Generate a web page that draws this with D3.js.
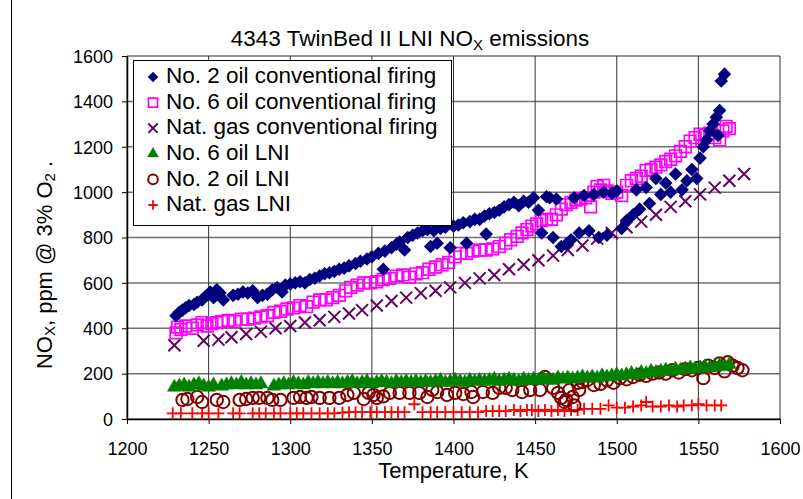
<!DOCTYPE html>
<html><head><meta charset="utf-8">
<script src="https://cdn.jsdelivr.net/npm/d3@7/dist/d3.min.js"></script>
<style>body{margin:0;background:#fff}svg{display:block;font-family:"Liberation Sans",Arial,sans-serif}</style>
</head><body><svg id="c" width="803" height="499"></svg>
<script>
const xTicks = [1200,1250,1300,1350,1400,1450,1500,1550,1600];
const yTicks = [0,200,400,600,800,1000,1200,1400,1600];

const no2ConvT = [1230,1232,1234,1236,1238,1241,1243,1246,1248,1250,1251,1253,1255,1257,1259,1265,1268,1271,1274,1277,1280,1283,1286,1289,1292,1295,1297,1300,1303,1306,1309,1312,1315,1318,1321,1324,1327,1330,1333,1336,1340,1343,1347,1350,1354,1357,1358,1362,1365,1367,1370,1372,1375,1378,1381,1384,1386,1388,1390,1392,1395,1398,1400,1403,1406,1408,1410,1413,1416,1419,1420,1422,1425,1428,1431,1434,1437,1440,1443,1446,1449,1452,1454,1457,1459,1461,1463,1466,1469,1472,1474,1477,1480,1483,1486,1489,1492,1494,1497,1500,1503,1506,1510,1512,1514,1518,1520,1524,1527,1530,1533,1536,1540,1543,1546,1549,1551,1553,1555,1557,1559,1561,1562,1563,1564,1566];
const no2ConvV = [455,470,480,490,500,505,515,525,540,550,560,535,570,555,525,545,550,560,555,565,535,545,550,570,580,560,590,595,600,605,600,615,620,630,640,645,650,660,665,675,685,695,705,715,730,660,740,755,770,780,745,800,810,820,830,835,760,830,775,840,845,755,850,855,865,775,870,880,880,895,815,905,910,920,935,945,955,940,960,955,975,920,820,980,975,800,970,760,770,790,975,820,985,830,990,800,1000,810,995,1005,840,875,900,1010,925,1020,950,1060,990,1040,1000,1080,1010,1050,1100,1060,1150,1200,1230,1270,1300,1330,1250,1360,1490,1520];

const no6ConvT = [1230,1231,1233,1236,1240,1243,1246,1249,1252,1255,1258,1262,1266,1270,1274,1278,1282,1286,1290,1294,1298,1302,1306,1310,1314,1318,1322,1326,1330,1334,1337,1341,1345,1349,1353,1357,1361,1365,1369,1373,1377,1381,1385,1389,1393,1397,1401,1404,1408,1412,1416,1420,1424,1428,1432,1435,1439,1442,1445,1448,1451,1454,1457,1460,1463,1466,1469,1472,1475,1478,1481,1484,1486,1488,1490,1492,1494,1497,1500,1503,1506,1509,1512,1515,1518,1521,1524,1527,1530,1533,1536,1539,1542,1545,1548,1551,1554,1557,1560,1563,1565,1567,1569];
const no6ConvV = [380,405,395,410,400,415,425,410,420,425,430,435,430,440,440,445,450,455,470,475,485,490,500,495,515,525,525,535,545,565,580,590,600,600,605,615,620,630,635,625,640,645,660,670,680,690,715,730,730,740,745,745,750,760,775,790,805,820,835,850,860,875,880,880,900,925,945,955,965,970,975,935,1000,1025,1010,1030,1005,995,1000,985,1030,1050,1060,1070,1095,1100,1110,1120,1135,1145,1160,1180,1200,1225,1240,1255,1250,1260,1240,1230,1270,1290,1280];

const gasConvT = [1229,1247,1256,1264,1273,1282,1291,1300,1309,1318,1327,1336,1344,1353,1362,1371,1380,1389,1398,1407,1416,1425,1434,1443,1452,1461,1470,1479,1488,1497,1506,1515,1524,1533,1542,1551,1560,1569,1578];
const gasConvV = [325,345,350,360,375,385,400,410,425,435,450,465,480,500,520,535,555,565,580,600,620,635,660,680,700,720,745,765,795,820,845,870,900,935,960,990,1020,1050,1080];

const no6LniT = [1229,1232,1235,1238,1241,1244,1247,1250,1253,1258,1261,1264,1267,1270,1273,1276,1279,1282,1290,1293,1296,1299,1302,1305,1308,1311,1314,1317,1320,1323,1326,1329,1332,1335,1338,1341,1344,1347,1350,1353,1356,1359,1362,1365,1368,1371,1374,1377,1380,1383,1386,1389,1392,1395,1398,1401,1404,1407,1410,1413,1416,1419,1422,1425,1428,1431,1434,1437,1440,1443,1446,1449,1452,1455,1458,1461,1464,1467,1470,1473,1476,1479,1482,1485,1488,1491,1494,1497,1500,1503,1506,1509,1512,1515,1518,1521,1524,1527,1530,1533,1536,1539,1542,1545,1548,1551,1554,1557,1560,1563,1566,1569];
const no6LniV = [140,145,150,140,150,155,145,140,150,145,150,155,150,160,150,155,150,155,145,150,155,150,160,155,150,160,155,160,155,160,155,160,155,160,165,155,160,165,155,160,165,160,155,165,160,165,160,165,160,165,160,165,170,160,165,170,165,160,170,165,170,165,170,175,165,170,175,170,165,175,170,175,170,180,175,170,180,175,180,175,180,185,180,185,180,190,185,190,195,190,195,200,195,205,200,210,205,210,215,210,220,215,220,225,220,225,230,225,230,235,230,240];

const no2LniT = [1234,1237,1243,1246,1255,1259,1269,1273,1277,1281,1286,1289,1294,1302,1306,1310,1313,1318,1324,1330,1335,1339,1345,1348,1351,1353,1357,1361,1367,1373,1379,1384,1387,1390,1396,1401,1406,1411,1412,1418,1424,1428,1432,1436,1442,1447,1453,1456,1461,1464,1466,1468,1469,1471,1473,1474,1476,1477,1479,1482,1486,1490,1494,1498,1502,1506,1510,1514,1518,1522,1526,1530,1534,1538,1542,1546,1550,1553,1556,1560,1563,1566,1568,1571,1574,1577];
const no2LniV = [84,88,97,75,84,75,84,88,93,93,93,84,84,93,97,93,97,93,93,93,106,115,88,115,106,93,100,115,115,115,115,97,128,119,106,115,110,119,97,119,115,137,137,128,119,128,128,185,137,115,93,75,84,128,97,60,159,128,163,172,150,155,170,160,180,175,185,195,190,200,205,200,215,205,220,215,225,180,235,225,245,210,250,235,225,215];

const gasLniT = [1228,1233,1240,1246,1250,1256,1265,1269,1277,1281,1285,1290,1294,1300,1304,1308,1313,1318,1323,1327,1332,1336,1340,1344,1349,1353,1358,1362,1366,1370,1376,1381,1386,1390,1395,1400,1405,1410,1415,1420,1424,1428,1432,1437,1441,1445,1448,1452,1456,1460,1464,1468,1472,1476,1480,1485,1490,1495,1500,1505,1510,1515,1518,1522,1527,1532,1537,1541,1546,1550,1555,1560,1564];
const gasLniV = [25,25,25,25,25,25,25,25,25,25,25,25,25,25,25,25,25,25,25,25,28,30,30,30,30,30,30,30,30,30,65,30,30,30,30,30,30,30,30,35,35,35,35,40,35,40,40,35,40,35,40,35,40,40,45,45,45,60,50,50,55,60,75,55,55,60,55,60,60,65,60,60,60];

const seriesNames = ["No. 2 oil conventional firing","No. 6 oil conventional firing","Nat. gas conventional firing","No. 6 oil LNI","No. 2 oil LNI","Nat. gas LNI"];

const series = [
  {name:seriesNames[0], t:no2ConvT, v:no2ConvV, sym:"diamond", color:"#000080"},
  {name:seriesNames[1], t:no6ConvT, v:no6ConvV, sym:"square", color:"#FF00FF"},
  {name:seriesNames[2], t:gasConvT, v:gasConvV, sym:"x", color:"#660066"},
  {name:seriesNames[3], t:no6LniT, v:no6LniV, sym:"triangle", color:"#008000"},
  {name:seriesNames[4], t:no2LniT, v:no2LniV, sym:"circle", color:"#800000"},
  {name:seriesNames[5], t:gasLniT, v:gasLniV, sym:"plus", color:"#FF0000"}
];

const svg = d3.select("#c");
svg.append("rect").attr("width",803).attr("height",499).attr("fill","#fff");
svg.append("line").attr("x1",11.5).attr("x2",11.5).attr("y1",0).attr("y2",499).attr("stroke","#000").attr("stroke-width",1);

const L=127, R=780, T=56, B=419;
const x = d3.scaleLinear().domain([1200,1600]).range([L,R]);
const y = d3.scaleLinear().domain([0,1600]).range([B,T]);

// gridlines
const g = svg.append("g");
g.selectAll("line.h").data(yTicks).join("line").attr("class","h")
  .attr("x1",L).attr("x2",R).attr("y1",d=>y(d)).attr("y2",d=>y(d))
  .attr("stroke","#707070").attr("stroke-width",1.5);
g.selectAll("line.v").data(xTicks).join("line").attr("class","v")
  .attr("y1",T).attr("y2",B).attr("x1",d=>x(d)).attr("x2",d=>x(d))
  .attr("stroke","#333").attr("stroke-width",1);

// axes
const xAxis = svg.append("g").attr("transform",`translate(0,${B})`)
  .call(d3.axisBottom(x).tickValues(xTicks).tickFormat(d3.format("d")).tickSize(5).tickSizeOuter(0));
const yAxis = svg.append("g").attr("transform",`translate(${L},0)`)
  .call(d3.axisLeft(y).tickValues(yTicks).tickFormat(d3.format("d")).tickSize(5).tickSizeOuter(0));
[xAxis,yAxis].forEach(a=>{
  a.select(".domain").attr("stroke","#000").attr("stroke-width",1.5);
  a.selectAll(".tick line").attr("stroke","#000");
  a.selectAll("text").attr("font-size",18).attr("fill","#000").attr("font-family","Liberation Sans, Arial, sans-serif");
});
xAxis.selectAll("text").attr("dy",null).attr("y",36);
yAxis.selectAll("text").attr("x",-14).attr("dy","0.35em");

function addMarker(parent, s, cx, cy, k){
  const gg = parent.append("g").attr("transform",`translate(${cx},${cy})`);
  if(s.sym==="diamond"){
    gg.append("path").attr("d",d3.symbol().type(d3.symbolSquare).size(92*k*k)()).attr("transform","rotate(45)").attr("fill",s.color);
  } else if(s.sym==="square"){
    gg.append("path").attr("d",d3.symbol().type(d3.symbolSquare).size(135*k*k)()).attr("fill","none").attr("stroke",s.color).attr("stroke-width",1.7);
  } else if(s.sym==="triangle"){
    gg.append("path").attr("d",d3.symbol().type(d3.symbolTriangle).size(85*k*k)()).attr("fill",s.color).attr("stroke",s.color).attr("stroke-width",0.5);
  } else if(s.sym==="circle"){
    gg.append("path").attr("d",d3.symbol().type(d3.symbolCircle).size(120*k*k)()).attr("fill","none").attr("stroke",s.color).attr("stroke-width",2);
  } else if(s.sym==="x"){
    const r=6*k;
    gg.append("path").attr("d",`M${-r},${-r}L${r},${r}M${-r},${r}L${r},${-r}`).attr("stroke",s.color).attr("stroke-width",2);
  } else if(s.sym==="plus"){
    const r=6*k;
    gg.append("path").attr("d",`M${-r},0L${r},0M0,${-r}L0,${r}`).attr("stroke",s.color).attr("stroke-width",1.8);
  }
}

const plot = svg.append("g");
series.slice().reverse().forEach(s=>{
  const gs = plot.append("g");
  s.t.forEach((t,i)=>addMarker(gs, s, x(t), y(s.v[i]), 1));
});

// legend
const lg = svg.append("g");
lg.append("rect").attr("x",133.5).attr("y",60.5).attr("width",318).attr("height",165).attr("fill","#fff").attr("stroke","#000").attr("stroke-width",1);
series.forEach((s,i)=>{
  const cy = 75 + i*25.6;
  addMarker(lg, s, 153, cy+2, 0.78);
  lg.append("text").attr("x",166).attr("y",cy).attr("dy","0.36em").attr("font-size",22.5).attr("fill","#000").text(s.name);
});

// title
const title = svg.append("text").attr("x",410).attr("y",46).attr("text-anchor","middle").attr("font-size",22.5).attr("fill","#000");
title.append("tspan").text("4343 TwinBed II LNI NO");
title.append("tspan").attr("font-size",15).attr("dy",4).text("X");
title.append("tspan").attr("dy",-4).text(" emissions");

svg.append("text").attr("x",(L+R)/2).attr("y",478).attr("text-anchor","middle").attr("font-size",22).attr("fill","#000").text("Temperature, K");

const yt = svg.append("text").attr("transform","translate(52,265) rotate(-90)").attr("text-anchor","middle").attr("font-size",22).attr("fill","#000");
yt.append("tspan").text("NO");
yt.append("tspan").attr("font-size",15).attr("dy",3).text("X");
yt.append("tspan").attr("dy",-3).text(", ppm @ 3% O");
yt.append("tspan").attr("font-size",15).attr("dy",3).text("2");
yt.append("tspan").attr("dy",-3).text(" .");
</script></body></html>
